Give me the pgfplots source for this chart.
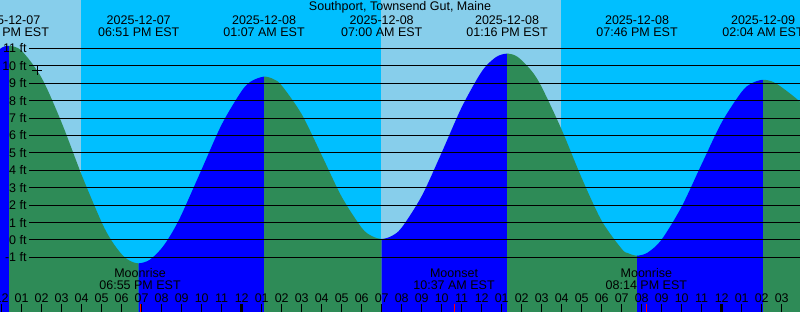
\documentclass[border=0pt]{standalone}
\usepackage{pgfplots}
\pgfplotsset{compat=1.18}
\usepgfplotslibrary{fillbetween}
\usepackage{fontspec}
\setmainfont{Liberation Sans}
\definecolor{daysky}{RGB}{135,206,235}
\definecolor{nightsky}{RGB}{0,191,255}
\definecolor{ebb}{RGB}{46,139,87}
\definecolor{flood}{RGB}{0,0,255}
\pgfplotstableread{
t h
-0.5 10.56
0 11.04
0.37 11.15
1 10.86
2 9.30
3 6.73
4 3.73
5 1.01
5.5 -0.05
6 -0.82
6.4 -1.19
6.85 -1.34
7.4 -1.14
8 -0.47
8.5 0.39
9 1.48
10 4.06
11 6.63
12 8.56
12.5 9.13
13.117 9.38
13.6 9.23
14 8.87
15 7.22
16 4.87
17 2.48
18 0.70
18.5 0.23
19 0.06
19.5 0.23
20 0.71
21 2.52
22 5.02
23 7.62
24 9.67
24.7 10.49
25.267 10.70
25.8 10.51
26.5 9.70
27 8.78
28 6.33
29 3.56
30 1.10
31 -0.51
31.3 -0.75
31.767 -0.90
32.3 -0.72
33 0.03
34 1.92
35 4.36
36 6.75
37 8.51
37.5 9.00
38.067 9.20
38.6 9.06
39.2 8.60
40 7.85
40.5 7.15
}\tide
\begin{document}
\begin{tikzpicture}[font=\fontsize{12.5bp}{15bp}\selectfont]
\begin{axis}[
  scale only axis, width=800bp, height=312bp,
  xmin=-0.085, xmax=39.915, ymin=-4.134, ymax=13.78,
  axis line style={draw=none},
  ytick=\empty,
  xtick={0,...,40},
  xticklabels={12,01,02,03,04,05,06,07,08,09,10,11,12,01,02,03,04,05,06,07,08,09,10,11,12,01,02,03,04,05,06,07,08,09,10,11,12,01,02,03,04},
  xtick pos=left, xtick align=inside,
  major tick length=7.7bp,
  tick style={black, line width=1bp},
  xticklabel style={anchor=base, yshift=9.7bp, inner sep=0pt, font=\fontsize{12.5bp}{15bp}\selectfont},
  axis on top,
  clip=true,
  fill between/on layer=main,
]
\coordinate (bl) at (rel axis cs:0,0);
\coordinate (tr) at (rel axis cs:1,1);
% sky: day / night
\addplot[fill=daysky, draw=none] coordinates {(-1,-5) (3.97,-5) (3.97,15) (-1,15)} -- cycle;
\addplot[fill=nightsky, draw=none] coordinates {(3.97,-5) (18.95,-5) (18.95,15) (3.97,15)} -- cycle;
\addplot[fill=daysky, draw=none] coordinates {(18.95,-5) (27.97,-5) (27.97,15) (18.95,15)} -- cycle;
\addplot[fill=nightsky, draw=none] coordinates {(27.97,-5) (41,-5) (41,15) (27.97,15)} -- cycle;
% tide curve
\addplot[draw=none, smooth, name path=tide] table[x=t, y=h] {\tide};
\addplot[draw=none, name path=bot] coordinates {(-1,-5) (41,-5)};
\addplot[fill=flood, draw=none] fill between[of=tide and bot, soft clip={domain=-1:0.37}];
\addplot[fill=ebb, draw=none] fill between[of=tide and bot, soft clip={domain=0.37:6.85}];
\addplot[fill=flood, draw=none] fill between[of=tide and bot, soft clip={domain=6.85:13.117}];
\addplot[fill=ebb, draw=none] fill between[of=tide and bot, soft clip={domain=13.117:19}];
\addplot[fill=flood, draw=none] fill between[of=tide and bot, soft clip={domain=19:25.267}];
\addplot[fill=ebb, draw=none] fill between[of=tide and bot, soft clip={domain=25.267:31.767}];
\addplot[fill=flood, draw=none] fill between[of=tide and bot, soft clip={domain=31.767:38.067}];
\addplot[fill=ebb, draw=none] fill between[of=tide and bot, soft clip={domain=38.067:41}];
% foot lines
\pgfplotsinvokeforeach{-1,0,1,2,3,4,5,6,7,8,9,10,11}{
  \addplot[black, line width=1bp] coordinates {(1.365,#1) (41,#1)};
  \node[anchor=east, inner sep=0pt] at (axis cs:1.255,#1) {#1 ft};
}
% current time marker
\addplot[only marks, mark=+, mark size=5bp, black, line width=1bp] coordinates {(1.765,9.76)};
% midnight ticks
\addplot[black, line width=3bp] coordinates {(12,-4.3) (12,-3.692)};
\addplot[black, line width=3bp] coordinates {(36,-4.3) (36,-3.692)};
% moon ticks
\addplot[red, line width=1bp] coordinates {(6.917,-4.3) (6.917,-3.692)};
\addplot[red, line width=1bp] coordinates {(22.617,-4.3) (22.617,-3.692)};
\addplot[red, line width=1bp] coordinates {(32.233,-4.3) (32.233,-3.692)};
% title
\node[anchor=base] at (axis cs:19.915,13.15) {Southport, Townsend Gut, Maine};
% tide labels
\node[anchor=base] at (axis cs:0.33,12.40) {2025-12-07};
\node[anchor=base] at (axis cs:0.33,11.68) {12:21 PM EST};
\node[anchor=base] at (axis cs:6.85,12.40) {2025-12-07};
\node[anchor=base] at (axis cs:6.85,11.68) {06:51 PM EST};
\node[anchor=base] at (axis cs:13.117,12.40) {2025-12-08};
\node[anchor=base] at (axis cs:13.117,11.68) {01:07 AM EST};
\node[anchor=base] at (axis cs:19.0,12.40) {2025-12-08};
\node[anchor=base] at (axis cs:19.0,11.68) {07:00 AM EST};
\node[anchor=base] at (axis cs:25.267,12.40) {2025-12-08};
\node[anchor=base] at (axis cs:25.267,11.68) {01:16 PM EST};
\node[anchor=base] at (axis cs:31.767,12.40) {2025-12-08};
\node[anchor=base] at (axis cs:31.767,11.68) {07:46 PM EST};
\node[anchor=base] at (axis cs:38.067,12.40) {2025-12-09};
\node[anchor=base] at (axis cs:38.067,11.68) {02:04 AM EST};
% moon labels
\node[anchor=base] at (axis cs:6.917,-2.18) {Moonrise};
\node[anchor=base] at (axis cs:6.917,-2.83) {06:55 PM EST};
\node[anchor=base] at (axis cs:22.617,-2.18) {Moonset};
\node[anchor=base] at (axis cs:22.617,-2.83) {10:37 AM EST};
\node[anchor=base] at (axis cs:32.233,-2.18) {Moonrise};
\node[anchor=base] at (axis cs:32.233,-2.83) {08:14 PM EST};
\end{axis}
\pgfresetboundingbox
\path[use as bounding box] (bl) rectangle (tr);
\end{tikzpicture}
\end{document}
